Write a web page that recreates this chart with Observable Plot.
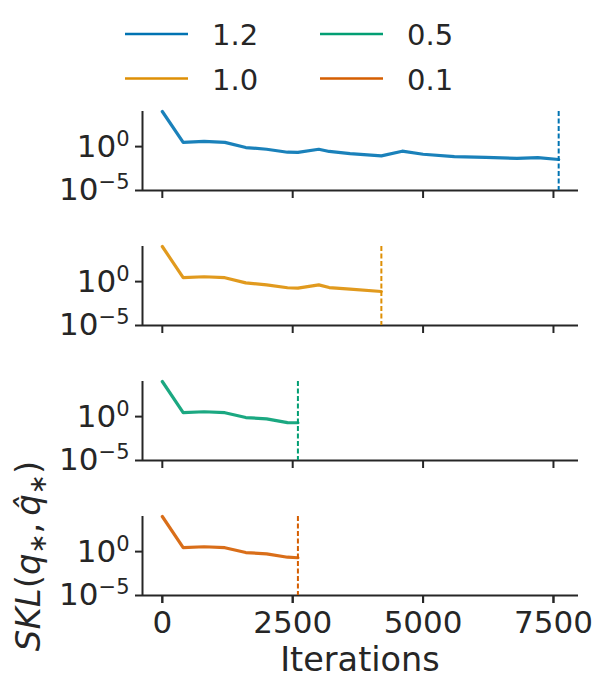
<!DOCTYPE html>
<html><head><meta charset="utf-8">
<script src="https://cdn.jsdelivr.net/npm/d3@7"></script>
<script src="https://cdn.jsdelivr.net/npm/@observablehq/plot@0.6"></script>
<style>
body{margin:0;background:#fff;font-family:"DejaVu Sans",sans-serif;}
#chart{width:601px;height:688px;}
#chart svg{display:block;}
</style></head><body><div id="chart"></div>
<script>
// series (legend labels) and colours
const seriesLabels = ["1.2", "1.0", "0.5", "0.1"];
const seriesColors = ["#0173b2", "#de8f05", "#029e73", "#d55e00"];

// iterations and SKL values per series
const iters12 = [0, 400, 800, 1200, 1600, 2000, 2400, 2600, 3000, 3200, 3600, 4200, 4600, 5000, 5600, 6200, 6800, 7200, 7600];
const skl12   = [1e4, 3.0, 4.0, 3.0, 0.78, 0.5, 0.23, 0.22, 0.5, 0.28, 0.16, 0.089, 0.3, 0.135, 0.074, 0.058, 0.045, 0.056, 0.034];
const iters10 = [0, 400, 800, 1200, 1600, 2000, 2400, 2600, 3000, 3200, 3600, 4200];
const skl10   = [1e4, 2.8, 3.6, 2.8, 0.72, 0.43, 0.2, 0.18, 0.42, 0.21, 0.14, 0.075];
const iters05 = [0, 400, 800, 1200, 1600, 2000, 2400, 2600];
const skl05   = [1e4, 2.8, 3.6, 2.8, 0.78, 0.55, 0.21, 0.2];
const iters01 = [0, 400, 800, 1200, 1600, 2000, 2400, 2600];
const skl01   = [1e4, 2.8, 3.6, 2.8, 0.78, 0.55, 0.23, 0.2];

// axis ticks
const xTicks = [0, 2500, 5000, 7500];
const yTicks = [1e-5, 1];
const yTickLabels = ["10^−5", "10^0"];
const xLabel = "Iterations";

const iterSets = [iters12, iters10, iters05, iters01];
const sklSets = [skl12, skl10, skl05, skl01];
const rows = [];
const ends = [];
seriesLabels.forEach((s, i) => {
  iterSets[i].forEach((it, j) => rows.push({series: s, iter: it, skl: sklSets[i][j]}));
  ends.push({series: s, iter: iterSets[i][iterSets[i].length - 1]});
});

const ink = "#262626";
const xDomain = [-380, 7980];

// legend
const legend = d3.create("svg").attr("width", 601).attr("height", 100);
seriesLabels.forEach((s, i) => {
  const col = Math.floor(i / 2), row = i % 2;
  const x0 = [125, 320][col], y0 = [34, 78.5][row];
  legend.append("line").attr("x1", x0).attr("x2", x0 + 63).attr("y1", y0).attr("y2", y0)
    .attr("stroke", seriesColors[i]).attr("stroke-width", 2.5);
  legend.append("text").attr("x", x0 + 87).attr("y", y0 + 11).attr("font-size", 29)
    .attr("fill", ink).attr("font-family", "DejaVu Sans").text(s);
});
document.getElementById("chart").append(legend.node());

const plot = Plot.plot({
  width: 601,
  height: 588,
  marginLeft: 142,
  marginRight: 23,
  marginTop: 10,
  marginBottom: 91,
  style: {color: ink, fontFamily: "DejaVu Sans", background: "white"},
  x: {domain: xDomain},
  y: {type: "log", domain: [1e-5, 1e4]},
  fy: {domain: seriesLabels, paddingInner: 0.4146, paddingOuter: 0, axis: null},
  color: {domain: seriesLabels, range: seriesColors},
  marks: [
    Plot.ruleY([1e-5], {stroke: ink, strokeWidth: 2}),
    Plot.ruleX([xDomain[0]], {stroke: ink, strokeWidth: 2}),
    Plot.axisX({ticks: xTicks, tickSize: 8, tickFormat: () => "", label: null, strokeWidth: 2, facetAnchor: null}),
    Plot.axisX({ticks: xTicks, tickSize: 8, tickPadding: 7, fontSize: 31, label: null, strokeWidth: 2,
      tickFormat: d => String(d)}),
    Plot.axisY({ticks: yTicks, tickSize: 7, tickPadding: 6, fontSize: 31, label: null, strokeWidth: 2,
      tickFormat: d => yTickLabels[yTicks.indexOf(d)]}),
    Plot.lineY(rows, {x: "iter", y: "skl", fy: "series", stroke: "series", strokeWidth: 3.2, strokeOpacity: 0.9}),
    Plot.ruleX(ends, {x: "iter", fy: "series", stroke: "series", strokeWidth: 2, strokeDasharray: "5,2.5"})
  ]
});
document.getElementById("chart").append(plot);

const svg = d3.select(plot);
// superscripts on y tick labels
svg.selectAll('g[aria-label="y-axis tick label"] text').each(function() {
  const t = d3.select(this);
  const parts = t.text().split("^");
  if (parts.length === 2) {
    t.text(parts[0]);
    t.append("tspan").attr("font-size", 21).attr("dy", -11).text(parts[1]);
  }
});
// x label
svg.append("text").attr("x", 360).attr("y", 570.7).attr("text-anchor", "middle")
  .attr("font-size", 33.5).attr("fill", ink).text(xLabel);
// y label (math)
const yl = svg.append("text").attr("transform", "translate(40,456) rotate(-90)")
  .attr("text-anchor", "middle").attr("font-size", 34).attr("fill", ink);
yl.append("tspan").attr("font-style", "italic").text("SKL");
yl.append("tspan").text("(");
yl.append("tspan").attr("font-style", "italic").text("q");
yl.append("tspan").attr("font-size", 24).attr("dy", 6).text("∗");
yl.append("tspan").attr("dy", -6).text(",\u2009");
yl.append("tspan").attr("font-style", "italic").text("q\u0302");
yl.append("tspan").attr("font-size", 24).attr("dy", 6).text("∗");
yl.append("tspan").attr("dy", -6).text(")");
</script>
</body></html>
